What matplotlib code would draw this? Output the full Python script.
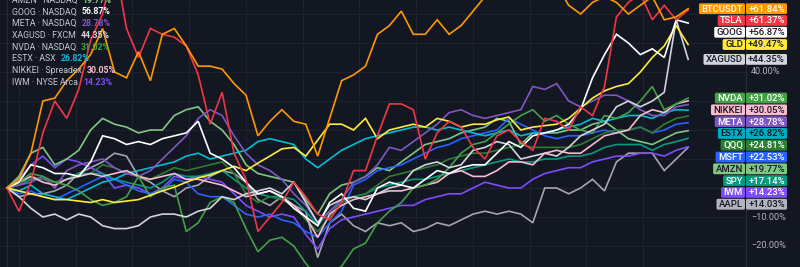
import numpy as np
import matplotlib
matplotlib.use('Agg')
import matplotlib.pyplot as plt
from matplotlib.patches import FancyBboxPatch

plt.rcParams['font.family'] = ['Roboto', 'DejaVu Sans']

# weekly % change vs. start (late Oct 2024 -> late Oct 2025)
btcusdt = [0, 3, 12, 30, 31, 37, 41, 46, 55, 40,
           38, 47, 37, 53, 55, 49, 42, 42, 41, 36,
           32, 18, 23, 27, 23, 22, 11, 24, 37, 39,
           42, 53, 56, 61, 53, 53, 58, 53, 56, 61,
           66, 75, 80, 78, 76, 78, 70, 63, 60, 64,
           66, 64, 60, 63, 66, 58, 59, 61.84]
tsla = [0, -8, 2, 19, 30, 24, 34, 51, 60, 78,
        55, 45, 55, 53, 52, 49, 39, 22, 33, 12,
        3, -15, -10, -5, 2, -3, -9, -11, -5, 6,
        6, 18, 29, 29, 27, 10, 19, 23, 21, 14,
        10, 18, 20, 16, 13, 24, 23, 20, 28, 25,
        35, 59, 64, 67, 58, 63, 58, 61.37]
goog = [0, 2, 8, 7, 5, 5, 4, 9, 18, 17,
        15, 16, 15, 17, 18, 19, 23, 12, 10, 7,
        2, -2, -1, -3, -7, -10, -13, -5, -2, -7,
        -8, 0, 2, 1, 0, 3, 6, 5, 7, 8,
        8, 12, 16, 14, 18, 19, 20, 22, 27, 38,
        46, 53, 50, 46, 48, 45, 58, 56.87]
gld = [0, -1, -2, -3, -4, -4, -4.5, -5, -4, -5,
       -4.5, -4, -2.5, -1, 0.3, 2, 3.5, 4.5, 6, 7.5,
       6, 8.6, 11, 13.5, 14, 11, 16.5, 22, 22, 20,
       24, 17, 20, 21, 22, 21, 24, 23, 21, 22,
       22, 23.5, 24.5, 20, 21, 21.5, 22, 24, 27.5, 31,
       33.5, 35, 36, 40, 45, 49, 56, 49.47]
xagusd = [0, -3, -7, -10, -9, -11, -9, -10, -13, -14,
          -14, -13, -10, -9, -9, -10, -8, -7, -3, -4,
          -2, -1, 0, -2, 2, -5, -12, -6, -4, -3,
          -4, -2, 0, 1, 6, 8, 9, 7, 8, 13,
          14, 16, 15, 10, 11, 12, 11, 14, 18, 20,
          22, 28, 30, 28, 30, 33, 58, 44.35]
nvda = [0, 2, 5, 4, 2, 1, -1, -4, -6, -5,
        -3, 4, -3, 0, 1, -15, -12, -5, -3, -5,
        -14, -22, -18, -17, -20, -26, -31, -30, -27, -21,
        -19, -12, -8, -5, 0, 1, 3, 7, 12, 15,
        16, 19, 22, 25, 27, 23, 25, 22, 20, 19,
        25, 24, 26, 30, 35, 27, 29, 31.02]
nikkei = [0, 2, 4, 2, 1, 3, 4, 5, 4, 5,
          6, 4, 3, 4, 5, 3, 3, 2, 1, -1,
          -3, -2, -1, -3, -6, -10, -17, -9, -6, -4,
          -3, -2, -1, -1, 0, 1, 2, 5, 6, 4,
          4, 6, 9, 9, 8, 12, 13, 12, 12, 15,
          18, 19, 20, 25, 27, 26, 29, 30.05]
meta = [0, 1, 2, 4, 0, 6, 8, 9, 10, 7,
        5, 4, 6, 10, 14, 18, 24, 27, 25, 18,
        12, 8, 6, 3, -2, -6, -12, -8, -4, 2,
        4, 8, 14, 13, 16, 19, 22, 26, 27, 25,
        24, 25, 26, 27, 35, 34, 36, 30, 28, 30,
        32, 32, 30, 27, 25, 25, 28, 28.78]
estx = [0, -1, 1, -2, -3, -4, -2, 0, 2, 3,
        5, 6, 7, 8, 9, 11, 12, 10, 11, 12,
        13, 16, 17, 16, 15, 10, 7, 10, 13, 15,
        17, 18, 19, 20, 21, 21, 20, 21, 20, 19,
        18, 19, 20, 18, 19, 19, 20, 21, 22, 24,
        23, 24, 25, 25, 24, 26, 27, 26.82]
qqq = [0, 1, 4, 3, 2, 3, 4, 5, 8, 7,
       5, 4, 3, 5, 7, 6, 7, 8, 9, 5,
       -2, -5, -3, -4, -6, -11, -15, -10, -5, -3,
       -2, 1, 4, 5, 6, 7, 8, 10, 11, 12,
       12, 13, 14, 15, 14, 14, 14, 14, 15, 17,
       19, 20, 20, 21, 19, 22, 24, 24.81]
msft = [0, -2, -1, -3, -4, -2, 0, 2, 4, 3,
        1, -1, -2, -1, 3, 2, -2, -3, -3, -6,
        -9, -10, -9, -11, -12, -15, -17, -12, -8, 1,
        3, 6, 7, 8, 10, 12, 14, 15, 17, 18,
        19, 20, 24, 22, 20, 18, 17, 18, 18, 19,
        20, 19, 20, 21, 19, 20, 22, 22.53]
amzn = [0, 4, 12, 14, 8, 10, 13, 20, 24, 22,
        21, 19, 20, 20, 25, 27, 28, 23, 20, 15,
        8, 5, 4, 3, 2, -4, -9, -2, 1, 2,
        4, 7, 6, 9, 12, 15, 16, 17, 19, 20,
        21, 24, 23, 15, 19, 19, 19, 20, 20, 22,
        23, 20, 17, 16, 15, 17, 19, 19.77]
spy = [0, 1, 3, 3, 2, 3, 5, 5, 5, 3,
       2, 1, 0, 2, 5, 4, 4, 5, 6, 3,
       0, -2, -3, -3, -4, -8, -13, -8, -5, -3,
       -2, 0, 1, 2, 3, 3, 4, 5, 6, 7,
       8, 9, 10, 9, 9, 10, 10, 11, 11, 12,
       14, 15, 15, 15, 13, 15, 16, 17.14]
iwm = [0, 3, 8, 11, 7, 10, 9, 7, 5, 0,
       1, 0, -2, 0, 4, 3, 4, 3, 2, -2,
       -6, -8, -10, -9, -10, -16, -21, -14, -11, -10,
       -9, -8, -7, -6, -6, -4, -3, -2, -2, 0,
       2, 1, 0, 0, 3, 5, 6, 7, 7, 9,
       10, 11, 11, 12, 12, 11, 13, 14.23]
aapl = [0, -3, -2, -2, -1, 1, 5, 7, 9, 12,
        11, 4, 2, -1, -3, 0, 1, 4, 6, 5,
        2, -4, -6, -3, -6, -8, -24, -12, -9, -13,
        -15, -12, -13, -12, -15, -14, -12, -13, -11, -9,
        -8, -9, -8, -9, -12, 0, 0, -2, 0, 3,
        -1, 9, 12, 12, 12, 6, 10, 14.03]

symbols = ['BTCUSDT', 'TSLA', 'GOOG', 'GLD', 'XAGUSD', 'NVDA', 'NIKKEI', 'META',
           'ESTX', 'QQQ', 'MSFT', 'AMZN', 'SPY', 'IWM', 'AAPL']
series = [btcusdt, tsla, goog, gld, xagusd, nvda, nikkei, meta,
          estx, qqq, msft, amzn, spy, iwm, aapl]

legend_symbols = ['AMZN', 'GOOG', 'META', 'XAGUSD', 'NVDA', 'ESTX', 'NIKKEI', 'IWM']
legend_exchanges = ['NASDAQ', 'NASDAQ', 'NASDAQ', 'FXCM', 'NASDAQ', 'ASX', 'Spreadex', 'NYSE Arca']

price_ticks = [-20, -10, 0, 10, 20, 30, 40, 50, 60]

# style
bg = '#131722'
grid_c = '#1e2230'
line_colors = {
	'BTCUSDT': '#ff9800', 'TSLA': '#f23645', 'GOOG': '#ffffff', 'GLD': '#ffeb3b',
	'XAGUSD': '#d1d4dc', 'NVDA': '#43a047', 'NIKKEI': '#f8bbd0', 'META': '#7e57c2',
	'ESTX': '#00bcd4', 'QQQ': '#2e7d32', 'MSFT': '#2962ff', 'AMZN': '#81c784',
	'SPY': '#089981', 'IWM': '#7c4dff', 'AAPL': '#a3a6af',
}
badge_colors = dict(line_colors)
badge_colors['AAPL'] = '#b2b5be'
badge_colors['ESTX'] = '#00acc1'
dark_text = ['GOOG', 'GLD', 'XAGUSD', 'NIKKEI', 'ESTX', 'AMZN', 'AAPL']

W, H = 800, 267
fig = plt.figure(figsize=(W / 100, H / 100), dpi=100)
fig.patch.set_facecolor(bg)

step = 11.95  # px per weekly point
ax = fig.add_axes([0, 0, 746 / W, 1])
ax.set_facecolor(bg)
ax.set_xlim(-7 / step, (746 - 7) / step)
ax.set_ylim(-(H - 188) / 2.9, 188 / 2.9)
for s in ax.spines.values():
	s.set_visible(False)
ax.set_yticks(price_ticks)
ax.set_xticks(np.arange(12) * 56.75 / step + 1.0)  # month starts
ax.tick_params(length=0, labelleft=False, labelbottom=False)
ax.grid(color=grid_c, lw=0.8)
ax.axvline(0, color='#262a36', lw=0.8)
ax.axhline(0, color='#5d606b', lw=0.8, zorder=1)

x = np.arange(len(btcusdt))
for sym, vals in reversed(list(zip(symbols, series))):
	ax.plot(x, vals, color=line_colors[sym], lw=1.2, solid_joinstyle='miter', zorder=2)

# overlay in pixel coordinates for price scale, badges and legend
ov = fig.add_axes([0, 0, 1, 1])
ov.set_xlim(0, W)
ov.set_ylim(H, 0)
ov.axis('off')
ov.patch.set_alpha(0)

def to_px(v):
	disp = ax.transData.transform((0, v))
	return ov.transData.inverted().transform(disp)[1]

# badge positions, stacked so they do not overlap
bh = 11.8
order = sorted(range(len(symbols)), key=lambda i: -series[i][-1])
badge_y = {}
prev = -1e9
for i in order:
	yc = max(to_px(series[i][-1]), prev + bh)
	badge_y[i] = yc
	prev = yc

ov.axvline(746, color='#2a2e39', lw=0.8)
for t in price_ticks:
	yt = to_px(t)
	if any(abs(yt - yb) < bh for yb in badge_y.values()):
		continue
	lab = ('%.2f%%' % t).replace('-', '\u2212')
	ov.text(751, yt, lab, color='#b2b5be', fontsize=6.6, ha='left', va='center')

fig.canvas.draw()
r = fig.canvas.get_renderer()

for i in order:
	sym = symbols[i]
	val = series[i][-1]
	yc = badge_y[i]
	fc = badge_colors[sym]
	tc = bg if sym in dark_text else '#ffffff'
	t1 = ov.text(743, yc + 0.4, sym, color=tc, fontsize=6.8, fontweight='medium',
		ha='right', va='center', zorder=6)
	w1 = t1.get_window_extent(r).width
	ov.add_patch(FancyBboxPatch((745 - w1 - 4.5, yc - bh / 2 + 0.5), w1 + 4.5, bh - 1,
		boxstyle='round,pad=0,rounding_size=1.5', fc=fc, ec='none', zorder=5))
	ov.add_patch(FancyBboxPatch((746, yc - bh / 2 + 0.5), 41, bh - 1,
		boxstyle='round,pad=0,rounding_size=1.5', fc=fc, ec='none', zorder=5))
	ov.text(766.5, yc + 0.4, '+%.2f%%' % val, color=tc, fontsize=6.8, fontweight='medium',
		ha='center', va='center', zorder=6)

# legend (top left, first row cut by the frame as in the source)
for j, (sym, exch) in enumerate(zip(legend_symbols, legend_exchanges)):
	yc = 11.7 * j + 0.3
	t = ov.text(12.5, yc, '%s \u00b7 %s' % (sym, exch), color='#c3c6ce', fontsize=6.3,
		ha='left', va='center', zorder=7)
	x1 = ov.transData.inverted().transform((t.get_window_extent(r).x1, 0))[0]
	val = series[symbols.index(sym)][-1]
	ov.text(x1 + 4.5, yc, '%.2f%%' % val, color=line_colors[sym], fontsize=6.3,
		fontweight='bold', ha='left', va='center', zorder=7)

fig.savefig('out.png', dpi=100, facecolor=bg)
